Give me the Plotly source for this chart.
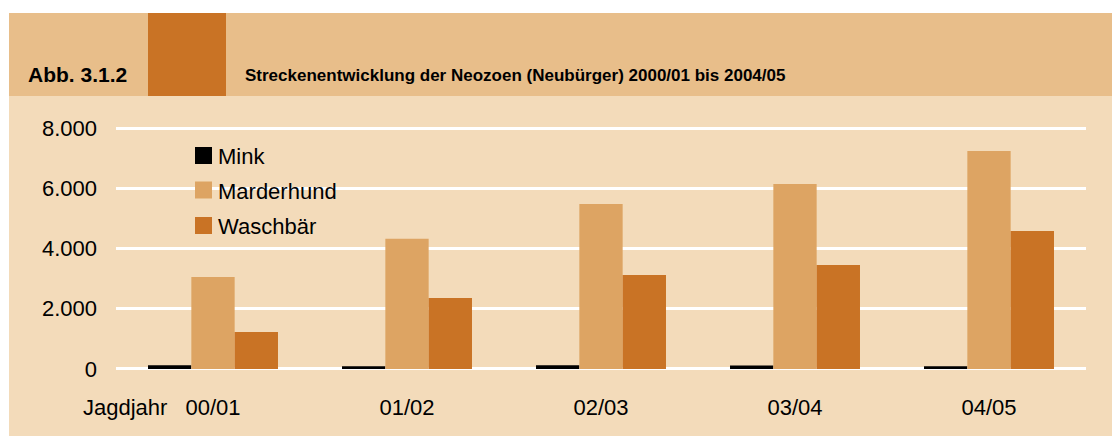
import plotly.graph_objects as go

categories = ["00/01", "01/02", "02/03", "03/04", "04/05"]
mink = [120, 90, 120, 115, 90]
marderhund = [3050, 4320, 5480, 6140, 7240]
waschbaer = [1230, 2360, 3120, 3450, 4580]
series_names = ["Mink", "Marderhund", "Waschbär"]
series_colors = ["#000000", "#DDA463", "#C97325"]
y_ticks = [0, 2000, 4000, 6000, 8000]
y_ticktext = ["0", "2.000", "4.000", "6.000", "8.000"]

# page has an 8px body margin; work in window pixel coordinates and convert
OFF = 8
W, H = 1120 - OFF, 436 - OFF
L, R, T, B = 116, 1086, 122, 372  # plot area in window pixels

def px(x):
    return (x - L) / (R - L)

def py(y):
    return (B - y) / (B - T)

BODY = "#F3DBBA"
HEAD = "#E8BE8A"
DARK = "#C97325"
FONT = "Liberation Sans, Arial, sans-serif"

fig = go.Figure()
for name, vals, col in zip(series_names, [mink, marderhund, waschbaer], series_colors):
    fig.add_trace(go.Bar(name=name, x=categories, y=vals, marker=dict(color=col, line=dict(width=0)),
                         showlegend=False))

shapes = [
    dict(type="rect", xref="paper", yref="paper", x0=px(9), x1=px(1125), y0=py(440), y1=py(13),
         fillcolor=BODY, line=dict(width=0), layer="below"),
    dict(type="rect", xref="paper", yref="paper", x0=px(9), x1=px(1125), y0=py(96), y1=py(13),
         fillcolor=HEAD, line=dict(width=0), layer="below"),
    dict(type="rect", xref="paper", yref="paper", x0=px(148), x1=px(226), y0=py(96), y1=py(13),
         fillcolor=DARK, line=dict(width=0), layer="below"),
]
annotations = [
    dict(text="<b>Abb. 3.1.2</b>", xref="paper", yref="paper", x=px(26), y=py(74), xanchor="left",
         yanchor="middle", showarrow=False, font=dict(family=FONT, size=21, color="#000")),
    dict(text="<b>Streckenentwicklung der Neozoen (Neubürger) 2000/01 bis 2004/05</b>", xref="paper",
         yref="paper", x=px(243), y=py(75), xanchor="left", yanchor="middle", showarrow=False,
         font=dict(family=FONT, size=17, color="#000")),
    dict(text="Jagdjahr", xref="paper", yref="paper", x=px(81), y=py(407), xanchor="left",
         yanchor="middle", showarrow=False, font=dict(family=FONT, size=22, color="#000")),
]
legend_y = [155.5, 190, 225.5]
for name, col, yc in zip(series_names, series_colors, legend_y):
    shapes.append(dict(type="rect", xref="paper", yref="paper", x0=px(195), x1=px(212),
                       y0=py(yc + 8.5), y1=py(yc - 8.5), fillcolor=col, line=dict(width=0)))
    annotations.append(dict(text=name, xref="paper", yref="paper", x=px(216), y=py(yc + 1),
                            xanchor="left", yanchor="middle", showarrow=False,
                            font=dict(family=FONT, size=22, color="#000")))

fig.update_layout(
    width=W, height=H,
    margin=dict(l=L - OFF, r=1120 - R, t=T - OFF, b=436 - B, pad=0),
    paper_bgcolor="white", plot_bgcolor="rgba(0,0,0,0)",
    barmode="group", bargap=0.33, bargroupgap=0,
    separators=",.",
    shapes=shapes, annotations=annotations,
    font=dict(family=FONT, size=22, color="#000"),
    showlegend=False,
)
fig.update_yaxes(range=[-100, 8200], tickvals=y_ticks, ticktext=y_ticktext, showgrid=True,
                 gridcolor="white", gridwidth=2.5, zeroline=True, zerolinecolor="white",
                 zerolinewidth=2.5, showline=False, ticks="", ticklabelstandoff=18,
                 tickfont=dict(family=FONT, size=22, color="#000"))
fig.update_xaxes(showgrid=False, zeroline=False, showline=False, ticks="",
                 ticklabelstandoff=20, tickfont=dict(family=FONT, size=22, color="#000"))

fig.write_html("out.html")
